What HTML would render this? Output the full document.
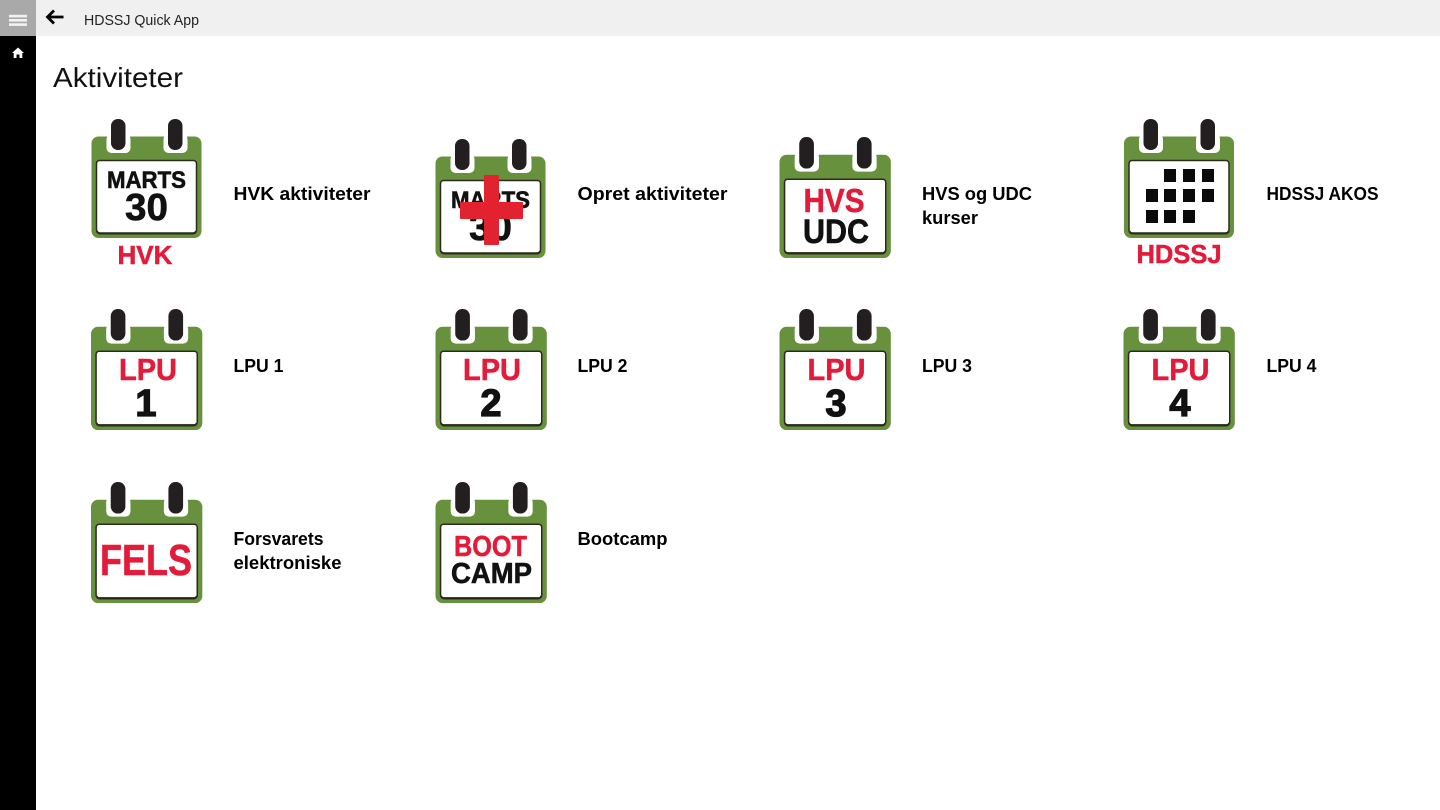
<!DOCTYPE html>
<html lang="da">
<head>
<meta charset="utf-8">
<title>HDSSJ Quick App</title>
<style>
html,body{margin:0;padding:0;width:1440px;height:810px;overflow:hidden;background:#fff}
svg{display:block}
text{font-family:"Liberation Sans",sans-serif}
.lab{font-size:18px;font-weight:700;fill:#000}
.ic{font-weight:700;text-anchor:middle}
.r{fill:#e31b3a;stroke:#e31b3a;stroke-width:.5px}
.b{fill:#111;stroke:#111;stroke-width:.6px}
.d{stroke-width:1.300px}
</style>
</head>
<body>
<svg width="1440" height="810" viewBox="0 0 1440 810" xmlns="http://www.w3.org/2000/svg">
<defs>
<g id="cal">
<rect x="0" y="17.500" width="110" height="101.500" rx="7" fill="#67913c"/>
<rect x="15" y="15" width="24" height="19" rx="5" fill="#fff"/>
<rect x="72" y="15" width="24" height="19" rx="5" fill="#fff"/>
<rect x="15" y="0" width="24" height="17.500" fill="#fff"/>
<rect x="72" y="0" width="24" height="17.500" fill="#fff"/>
<rect x="19.500" y="0" width="14.500" height="31" rx="7" fill="#231f20"/>
<rect x="76.500" y="0" width="14.500" height="31" rx="7" fill="#231f20"/>
<rect x="5" y="41.500" width="100" height="72.500" rx="3" fill="#fff" stroke="#2c2a1f" stroke-width="1.500"/>
<path d="M5.500 112 Q6 114.500 9 114.500 H101 Q104 114.500 104.500 112" fill="none" stroke="#2c2a1f" stroke-width="2"/>
</g>
</defs>

<rect x="0" y="0" width="1440" height="810" fill="#fff"/>
<rect x="36" y="0" width="1404" height="36" fill="#f0f0f0"/>
<rect x="0" y="36" width="36" height="774" fill="#000"/>
<rect x="0" y="0" width="36" height="36" fill="#a9a9a9"/>
<rect x="9" y="14.800" width="18" height="2.600" fill="#f2f2f2"/>
<rect x="9" y="19" width="18" height="2.600" fill="#f2f2f2"/>
<rect x="9" y="23.300" width="18" height="2.600" fill="#f2f2f2"/>
<path d="M18 47.500 L24 53 H22.300 V58 H19.500 V54.500 H16.500 V58 H13.700 V53 H12 Z" fill="#fff"/>
<path d="M47 17 H63.500 M54 10.500 L47.500 17 L54 23.500" fill="none" stroke="#000" stroke-width="2.800"/>
<text x="84" y="25" font-size="15" fill="#222" textLength="115" lengthAdjust="spacingAndGlyphs">HDSSJ Quick App</text>
<text x="53" y="87" font-size="28" fill="#111" textLength="130" lengthAdjust="spacingAndGlyphs">Aktiviteter</text>

<!-- Row 1 -->
<use href="#cal" x="91.500" y="119"/>
<text class="ic b" x="146.500" y="188" font-size="24" textLength="79" lengthAdjust="spacingAndGlyphs">MARTS</text>
<text class="ic b" x="146.500" y="220" font-size="38" textLength="43" lengthAdjust="spacingAndGlyphs">30</text>
<text class="ic r" x="145" y="264" font-size="26" textLength="55" lengthAdjust="spacingAndGlyphs">HVK</text>
<text class="lab" x="233.500" y="200" textLength="137" lengthAdjust="spacingAndGlyphs">HVK aktiviteter</text>

<use href="#cal" x="435.500" y="139"/>
<text class="ic b" x="490.500" y="208" font-size="24" textLength="79" lengthAdjust="spacingAndGlyphs">MARTS</text>
<text class="ic b" x="490.500" y="240" font-size="38" textLength="43" lengthAdjust="spacingAndGlyphs">30</text>
<rect x="484" y="175" width="15" height="70" rx="1" fill="#e2232f"/>
<rect x="460" y="202" width="63" height="17" rx="1" fill="#e2232f"/>
<text class="lab" x="577.500" y="200" textLength="150" lengthAdjust="spacingAndGlyphs">Opret aktiviteter</text>

<use href="#cal" transform="translate(779.500 137) scale(1.012 1.017)"/>
<text class="ic r" x="834" y="212" font-size="33" textLength="61" lengthAdjust="spacingAndGlyphs">HVS</text>
<text class="ic b" x="836" y="243" font-size="34" textLength="66" lengthAdjust="spacingAndGlyphs">UDC</text>
<text class="lab" x="922" y="200" textLength="110" lengthAdjust="spacingAndGlyphs">HVS og UDC</text>
<text class="lab" x="922" y="224" textLength="56" lengthAdjust="spacingAndGlyphs">kurser</text>

<use href="#cal" x="1124" y="119"/>
<g fill="#0a0a0a">
<rect x="1164" y="169" width="12" height="13"/><rect x="1183" y="169" width="12" height="13"/><rect x="1202" y="169" width="12" height="13"/>
<rect x="1146" y="189" width="12" height="13"/><rect x="1164" y="189" width="12" height="13"/><rect x="1183" y="189" width="12" height="13"/><rect x="1202" y="189" width="12" height="13"/>
<rect x="1146" y="210" width="12" height="13"/><rect x="1164" y="210" width="12" height="13"/><rect x="1183" y="210" width="12" height="13"/>
</g>
<text class="ic r" x="1179" y="263" font-size="26" textLength="85" lengthAdjust="spacingAndGlyphs">HDSSJ</text>
<text class="lab" x="1266.500" y="200" textLength="112" lengthAdjust="spacingAndGlyphs">HDSSJ AKOS</text>

<!-- Row 2 -->
<use href="#cal" transform="translate(91 309) scale(1.012 1.017)"/>
<text class="ic r" x="148" y="380" font-size="31" textLength="58" lengthAdjust="spacingAndGlyphs">LPU</text>
<text class="ic b d" x="146" y="416" font-size="38">1</text>
<text class="lab" x="233.500" y="372" textLength="50" lengthAdjust="spacingAndGlyphs">LPU 1</text>

<use href="#cal" transform="translate(435.500 309) scale(1.012 1.017)"/>
<text class="ic r" x="492" y="380" font-size="31" textLength="58" lengthAdjust="spacingAndGlyphs">LPU</text>
<text class="ic b d" x="491" y="416" font-size="38">2</text>
<text class="lab" x="577.500" y="372" textLength="50" lengthAdjust="spacingAndGlyphs">LPU 2</text>

<use href="#cal" transform="translate(779.500 309) scale(1.012 1.017)"/>
<text class="ic r" x="836.500" y="380" font-size="31" textLength="58" lengthAdjust="spacingAndGlyphs">LPU</text>
<text class="ic b d" x="836" y="416" font-size="38">3</text>
<text class="lab" x="922" y="372" textLength="50" lengthAdjust="spacingAndGlyphs">LPU 3</text>

<use href="#cal" transform="translate(1123.500 309) scale(1.012 1.017)"/>
<text class="ic r" x="1180.500" y="380" font-size="31" textLength="58" lengthAdjust="spacingAndGlyphs">LPU</text>
<text class="ic b d" x="1180" y="416" font-size="38">4</text>
<text class="lab" x="1266.500" y="372" textLength="50" lengthAdjust="spacingAndGlyphs">LPU 4</text>

<!-- Row 3 -->
<use href="#cal" transform="translate(91 482) scale(1.012 1.017)"/>
<text class="ic r" x="146" y="575" font-size="44" textLength="92" lengthAdjust="spacingAndGlyphs">FELS</text>
<text class="lab" x="233.500" y="545" textLength="90" lengthAdjust="spacingAndGlyphs">Forsvarets</text>
<text class="lab" x="233.500" y="569" textLength="108" lengthAdjust="spacingAndGlyphs">elektroniske</text>

<use href="#cal" transform="translate(435.500 482) scale(1.012 1.017)"/>
<text class="ic r" x="490.500" y="556" font-size="29" textLength="73" lengthAdjust="spacingAndGlyphs">BOOT</text>
<text class="ic b" x="491.500" y="583" font-size="29" textLength="81" lengthAdjust="spacingAndGlyphs">CAMP</text>
<text class="lab" x="577.500" y="545" textLength="90" lengthAdjust="spacingAndGlyphs">Bootcamp</text>
</svg>
</body>
</html>
